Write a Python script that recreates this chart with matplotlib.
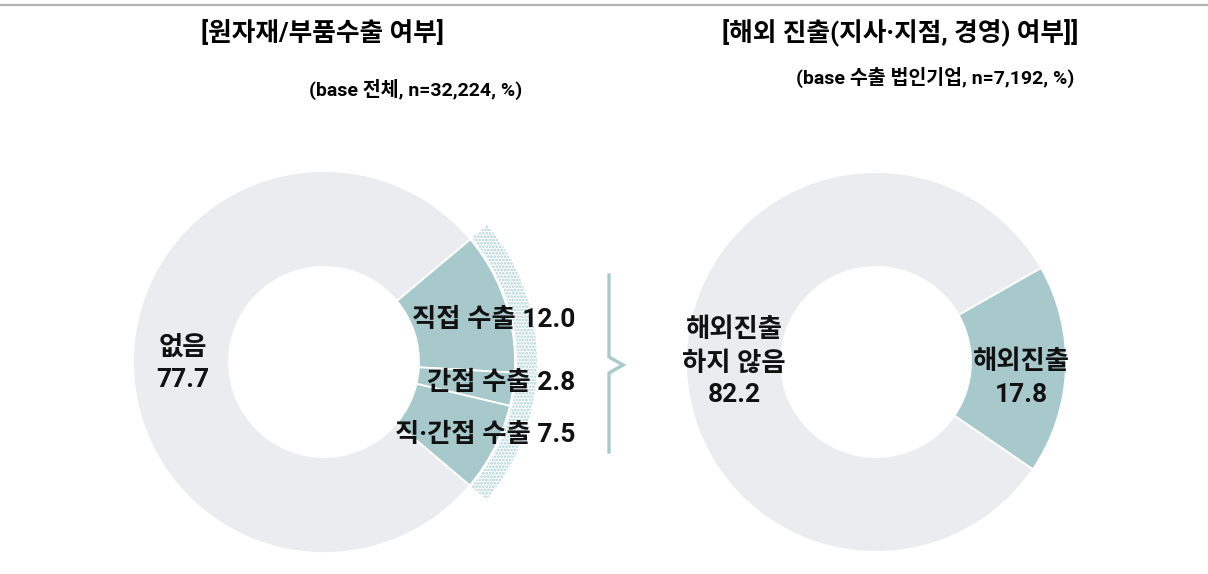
import matplotlib
matplotlib.use('Agg')
import matplotlib.pyplot as plt

plt.rcParams['font.family'] = ['Roboto', 'Noto Sans CJK KR', 'DejaVu Sans']
plt.rcParams['hatch.linewidth'] = 1.3

# left donut: 원자재/부품 수출 여부
left_labels = ['직접 수출', '간접 수출', '직·간접 수출', '없음']
left_values = [12.0, 2.8, 7.5, 77.7]

# right donut: 해외 진출 여부
right_labels = ['해외진출', '해외진출\n하지 않음']
right_values = [17.8, 82.2]

titles = ['[원자재/부품수출 여부]', '[해외 진출(지사·지점, 경영) 여부]]']
subtitles = ['(base 전체, n=32,224, %)', '(base 수출 법인기업, n=7,192, %)']

TEAL = '#a7c9cb'
GREY = '#ebecf0'
DOTS = '#a9cfd6'

W, H = 1208, 574
fig = plt.figure(figsize=(W / 100, H / 100), dpi=100)
ax = fig.add_axes([0, 0, 1, 1])

def py(y):
    # image y (down) -> axes y (up)
    return H - y

# left donut
lc = (324, py(362))
ax.pie(left_values, colors=[TEAL, TEAL, TEAL, GREY], startangle=40.0,
       counterclock=False, center=lc, radius=191,
       wedgeprops=dict(width=96, edgecolor='white', linewidth=1.3))
# dotted outer ring around the export part
ring, _ = ax.pie(left_values, colors=['white'] * 4, startangle=40.0,
                 counterclock=False, center=lc, radius=213,
                 wedgeprops=dict(width=20, linewidth=0))
for w in ring[:3]:
    w.set_hatch('.....')
    w.set_edgecolor(DOTS)
ring[3].set_visible(False)

# right donut
rc = (876, py(362))
ax.pie(right_values, colors=[TEAL, GREY], startangle=29.7,
       counterclock=False, center=rc, radius=190,
       wedgeprops=dict(width=95, edgecolor='white', linewidth=1.3))

ax.set_xlim(0, W)
ax.set_ylim(0, H)
ax.set_aspect('auto')
ax.axis('off')

# top rule
ax.plot([0, W], [py(5), py(5)], color='#b3b3b3', linewidth=1.6)

# bracket with chevron
ax.plot([609, 609, 623, 609, 609], [py(275), py(357), py(365), py(373), py(452)],
        color=TEAL, linewidth=2.4, solid_joinstyle='miter')

# titles
ax.text(322, py(33), titles[0], ha='center', va='center', fontsize=18.5, fontweight='bold')
ax.text(900, py(33), titles[1], ha='center', va='center', fontsize=18.5, fontweight='bold')
ax.text(416, py(89), subtitles[0], ha='center', va='center', fontsize=14, fontweight='bold')
ax.text(935, py(77), subtitles[1], ha='center', va='center', fontsize=14, fontweight='bold')

lab = dict(fontsize=19, fontweight='semibold', color='#111111')

# left labels
left_y = [320, 383, 435]
for name, v, y in zip(left_labels[:3], left_values[:3], left_y):
    ax.text(575, py(y), f'{name} {v:.1f}', ha='right', va='center', **lab)
ax.text(183, py(348), left_labels[3], ha='center', va='center', **lab)
ax.text(183, py(380), f'{left_values[3]:.1f}', ha='center', va='center', **lab)

# right labels
for i, line in enumerate(right_labels[1].split('\n')):
    ax.text(734, py(330 + 34 * i), line, ha='center', va='center', **lab)
ax.text(734, py(395), f'{right_values[1]:.1f}', ha='center', va='center', **lab)
ax.text(1021, py(362), right_labels[0], ha='center', va='center', **lab)
ax.text(1021, py(395), f'{right_values[0]:.1f}', ha='center', va='center', **lab)

fig.savefig('out.png', dpi=100)
